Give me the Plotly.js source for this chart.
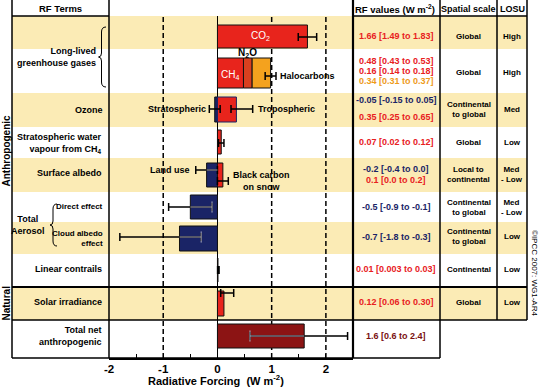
<!DOCTYPE html>
<html>
<head>
<meta charset="utf-8">
<script src="https://cdn.plot.ly/plotly-3.0.1.min.js"></script>
<style>html,body{margin:0;padding:0;background:#fff;}#chart{width:540px;height:387px;}</style>
</head>
<body>
<div id="chart"></div>
<script>
// ---------------- data ----------------
const terms = ['CO2','CH4','N2O','Halocarbons','Stratospheric ozone','Tropospheric ozone',
  'Stratospheric water vapour from CH4','Land use','Black carbon on snow','Direct effect',
  'Cloud albedo effect','Linear contrails','Solar irradiance','Total net anthropogenic'];
const rfBest = [1.66, 0.48, 0.16, 0.34, -0.05, 0.35, 0.07, -0.2, 0.1, -0.5, -0.7, 0.01, 0.12, 1.6];
const rfLow  = [1.49, 0.43, 0.14, 0.31, -0.15, 0.25, 0.02, -0.4, 0.0, -0.9, -1.8, 0.003, 0.06, 0.6];
const rfHigh = [1.83, 0.53, 0.18, 0.37, 0.05, 0.65, 0.12, 0.0, 0.2, -0.1, -0.3, 0.03, 0.30, 2.4];
const rfLabels = ['1.66 [1.49 to 1.83]','0.48 [0.43 to 0.53]','0.16 [0.14 to 0.18]','0.34 [0.31 to 0.37]',
  '-0.05 [-0.15 to 0.05]','0.35 [0.25 to 0.65]','0.07 [0.02 to 0.12]','-0.2 [-0.4 to 0.0]','0.1 [0.0 to 0.2]',
  '-0.5 [-0.9 to -0.1]','-0.7 [-1.8 to -0.3]','0.01 [0.003 to 0.03]','0.12 [0.06 to 0.30]','1.6 [0.6 to 2.4]'];
const rowTerms = ['Long-lived<br>greenhouse gases','Ozone','Stratospheric water<br>vapour from CH<sub>4</sub>',
  'Surface albedo','Direct effect','Cloud albedo<br>effect','Linear contrails','Solar irradiance','Total net<br>anthropogenic'];
const spatialScale = ['Global','Global','Continental<br>to global','Global','Local to<br>continental',
  'Continental<br>to global','Continental<br>to global','Continental','Global'];
const losu = ['High','High','Med','Low','Med<br>- Low','Med<br>- Low','Low','Low','Low'];
const xTicks = [-2, -1, 0, 1, 2];

// ---------------- layout helpers ----------------
const F = 'Liberation Sans, Arial, sans-serif';
const PX = X => (X - 109) / 244;
const PY = Y => (358 - Y) / 342;
const RED = '#E8241C', N2OC = '#D9401F', ORANGE = '#F4A21E', NAVY = '#1A2466', DRED = '#8C1414';
const YEL = '#FBEBB5';
const TRED = '#E8201E', TORG = '#EE9A1A', TNAVY = '#1A2466', TDRED = '#7A1010';

// term -> table row
const termRow = [0,1,1,1,2,2,3,4,4,5,6,7,8,9];
const rowBarY = [36.5, 73, 109.5, 142, 175, 207, 238.5, 270, 303.5, 336];
const rowBarH = [23, 30, 25, 24, 24, 24, 25, 24, 25, 24];
const termErrY = [37, 76, 76, 76, 109, 109, 143, 170, 181, 207, 237, 270, 293, 336];
const barColor = [RED, RED, N2OC, ORANGE, NAVY, RED, RED, NAVY, RED, NAVY, NAVY, RED, RED, DRED];
const barLine = terms.map((t,i) => i === 5 ? NAVY : '#111');

// stacked bases for the long-lived GHG components
const base = rfBest.map(() => 0);
base[2] = rfBest[1];
base[3] = rfBest[1] + rfBest[2];

const barTrace = {
  type: 'bar', orientation: 'h',
  x: rfBest.slice(), base: base,
  y: termRow.map(r => rowBarY[r]), width: termRow.map(r => rowBarH[r]),
  marker: {color: barColor, line: {color: barLine, width: 1}},
  hoverinfo: 'skip', showlegend: false
};

// error bars
const ex = [], ey = [], ep = [], em = [];
terms.forEach((t, i) => {
  if (i >= 1 && i <= 3) return;
  ex.push(rfBest[i]); ey.push(termErrY[i]);
  ep.push(rfHigh[i] - rfBest[i]); em.push(rfBest[i] - rfLow[i]);
});
// combined long-lived GHG uncertainty (CH4 + N2O + halocarbons)
const gBest = rfBest[1] + rfBest[2] + rfBest[3];
const gLow = rfLow[1] + rfLow[2] + rfLow[3];
const gHigh = rfHigh[1] + rfHigh[2] + rfHigh[3];
ex.push(gBest); ey.push(termErrY[3]); ep.push(gHigh - gBest); em.push(gBest - gLow);

const errTrace = {
  type: 'scatter', mode: 'markers', x: ex, y: ey,
  marker: {size: 1, opacity: 0},
  error_x: {type: 'data', symmetric: false, array: ep, arrayminus: em, color: '#000', thickness: 1.5, width: 4},
  hoverinfo: 'skip', showlegend: false
};

// light overlay where error bars run inside dark bars
const darkIdx = [7, 9, 10, 13];
const ox = [], oy = [], cx = [], cy = [];
darkIdx.forEach(i => {
  const lo = Math.min(0, rfBest[i]), hi = Math.max(0, rfBest[i]);
  const a = Math.max(rfLow[i], lo), b = Math.min(rfHigh[i], hi);
  ox.push(a, b, null); oy.push(termErrY[i], termErrY[i], null);
  if (rfLow[i] > lo) { cx.push(rfLow[i]); cy.push(termErrY[i]); }
  if (rfHigh[i] < hi) { cx.push(rfHigh[i]); cy.push(termErrY[i]); }
});
const overlayLine = {type:'scatter', mode:'lines', x: ox, y: oy, line:{color:'#A9AABB', width:1},
  hoverinfo:'skip', showlegend:false, connectgaps:false};
const overlayCap = {type:'scatter', mode:'markers', x: cx, y: cy,
  marker:{symbol:'line-ns', size:8, line:{color:'#A9AABB', width:1}}, hoverinfo:'skip', showlegend:false};

// ---------------- shapes ----------------
const shapes = [];
function rect(x0, y0, x1, y1, c) {
  shapes.push({type:'rect', xref:'paper', yref:'paper', x0:PX(x0), y0:PY(y0), x1:PX(x1), y1:PY(y1),
    fillcolor:c, line:{width:0}, layer:'below'});
}
function ln(x0, y0, x1, y1, w) {
  shapes.push({type:'line', xref:'paper', yref:'paper', x0:PX(x0), y0:PY(y0), x1:PX(x1), y1:PY(y1),
    line:{color:'#000', width:w || 1.5}, layer:'above'});
}
// stripes
[[16,49],[93,127],[158,192],[222,254],[287,320]].forEach(s => rect(12, s[0], 527, s[1], YEL));
// dashed reference lines
[-1, 1, 2].forEach(v => shapes.push({type:'line', xref:'x', yref:'paper', x0:v, x1:v, y0:0, y1:1,
  line:{color:'#000', width:1.5, dash:'5px,3px'}, layer:'below'}));
// table / frame lines
ln(12, 0, 12, 358); ln(109, 0, 109, 358); ln(353, 0, 353, 358, 2.2); ln(440, 0, 440, 358);
ln(497, 0, 497, 320); ln(527, 0, 527, 320);
ln(12, 16, 109, 16); ln(353, 16, 527, 16);
ln(12, 287, 527, 287, 2); ln(12, 320, 527, 320, 1.5); ln(12, 358, 440, 358, 1.5);
// braces
function brace(xe, xm, xt, y0, y1) {
  const ym = (y0 + y1) / 2;
  const p = (X, Y) => PX(X) + ',' + PY(Y);
  const d = 'M' + p(xe, y0) + ' Q' + p(xm, y0) + ' ' + p(xm, y0 + 5) + ' L' + p(xm, ym - 4) +
    ' Q' + p(xm, ym) + ' ' + p(xt, ym) + ' Q' + p(xm, ym) + ' ' + p(xm, ym + 4) +
    ' L' + p(xm, y1 - 5) + ' Q' + p(xm, y1) + ' ' + p(xe, y1);
  shapes.push({type:'path', xref:'paper', yref:'paper', path:d, line:{color:'#000', width:1}, layer:'above'});
}
brace(106, 101.5, 98.5, 27, 87);
brace(57, 53, 50, 204, 246);

// ---------------- annotations ----------------
const annotations = [];
function ann(text, X, Y, o) {
  o = o || {};
  annotations.push({text, x:PX(X), y:PY(Y), xref:'paper', yref:'paper', showarrow:false,
    xanchor:o.anchor || 'center', yanchor:'middle', align:o.align || o.anchor || 'center',
    textangle:o.angle || 0, borderpad:0,
    font:{family:F, size:o.size || 9, color:o.color || '#000', weight:o.weight || 'bold'}});
}
// headers
ann('RF Terms', 60, 8.5, {size:9.5});
ann('RF values (W m<sup>-2</sup>)', 395, 8.5, {size:9.5});
ann('Spatial scale', 468, 8.5, {size:9});
ann('LOSU', 512, 8.5, {size:9});
// left terms
const termY = [57, 110, 143, 173, 206, 238, 269, 302, 336];
const termX = [97, 104, 103, 103, 104, 104, 103, 103, 103];
rowTerms.forEach((t, k) => ann(t, termX[k], termY[k], {anchor:'right', size:(k === 4 || k === 5) ? 8 : 9}));
ann('Total<br>Aerosol', 28, 224.5, {size:9});
ann('Anthropogenic', 5.5, 151, {angle:-90, size:10});
ann('Natural', 5.5, 303, {angle:-90, size:10});
ann('©IPCC 2007: WG1-AR4', 535, 273, {angle:90, size:8, weight:'normal'});
// in-plot labels
ann('CO<sub>2</sub>', 260, 36, {color:'#fff', weight:'normal', size:10});
ann('CH<sub>4</sub>', 230, 75, {color:'#fff', weight:'normal', size:10});
ann('N<sub>2</sub>O', 247, 53, {size:10});
ann('Halocarbons', 279, 76, {anchor:'left'});
ann('Stratospheric', 207, 109, {anchor:'right'});
ann('Tropospheric', 257, 109, {anchor:'left'});
ann('Land use', 191, 170, {anchor:'right'});
ann('Black carbon<br>on snow', 261, 180.5, {});
// RF values column
const rfTextY = [36, 61, 71, 81, 100, 117, 142, 169, 180, 207, 237, 269, 302, 336];
const rfTextC = [TRED, TRED, TRED, TORG, TNAVY, TRED, TRED, TNAVY, TRED, TNAVY, TNAVY, TRED, TRED, TDRED];
rfLabels.forEach((t, i) => ann(t, 396, rfTextY[i], {color:rfTextC[i], size:9}));
// spatial scale & LOSU
const tabY = [36, 73, 109.5, 142, 174.5, 207, 237, 269, 302];
spatialScale.forEach((t, k) => ann(t, 468.5, tabY[k], {size:8}));
losu.forEach((t, k) => ann(t, 512, tabY[k], {size:8}));
// axis title
ann('Radiative Forcing  (W m<sup>-2</sup>)', 216, 380, {size:11});

const layout = {
  width: 540, height: 387,
  margin: {l:109, r:187, t:16, b:29, pad:0},
  paper_bgcolor: '#fff', plot_bgcolor: 'rgba(0,0,0,0)',
  barmode: 'overlay', showlegend: false,
  xaxis: {range:[-2, 2.5], tickmode:'array', tickvals:xTicks, ticktext:xTicks.map(String),
    ticks:'inside', ticklen:4, tickcolor:'#000', tickwidth:1,
    minor:{dtick:0.5, tick0:-2, ticks:'inside', ticklen:4, tickcolor:'#000'},
    showline:true, linecolor:'#000', linewidth:1.5, showgrid:false,
    zeroline:true, zerolinecolor:'#000', zerolinewidth:1,
    tickfont:{family:F, size:11.5, color:'#000', weight:'bold'}, fixedrange:true},
  yaxis: {range:[358, 16], visible:false, showgrid:false, zeroline:false, fixedrange:true},
  shapes, annotations
};
Plotly.newPlot('chart', [barTrace, errTrace, overlayLine, overlayCap], layout, {displayModeBar:false, staticPlot:true});
</script>
</body>
</html>
